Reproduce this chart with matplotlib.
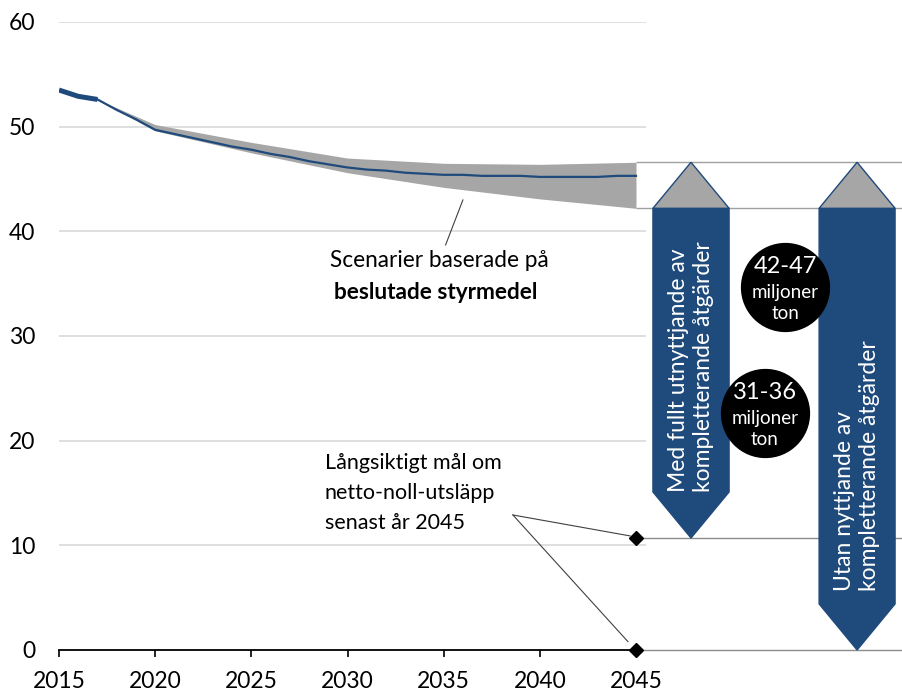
import matplotlib
matplotlib.use("Agg")
import matplotlib.pyplot as plt
from matplotlib.patches import Polygon

plt.rcParams['font.family'] = ['Lato', 'DejaVu Sans']

# historic + projected emissions (miljoner ton)
years = list(range(2015, 2046))
emissions = [53.5, 52.9, 52.6, 51.6, 50.7, 49.7, 49.3, 48.9, 48.5, 48.1,
             47.8, 47.4, 47.1, 46.7, 46.4, 46.1, 45.9, 45.8, 45.6, 45.5,
             45.4, 45.4, 45.3, 45.3, 45.3, 45.2, 45.2, 45.2, 45.2, 45.3, 45.3]
hist_end = 2017

# scenario band
band_years = [2017, 2020, 2025, 2030, 2035, 2040, 2045]
band_upper = [52.6, 50.2, 48.5, 47.0, 46.5, 46.4, 46.6]
band_lower = [52.6, 49.6, 47.5, 45.6, 44.2, 43.1, 42.2]

target_year = 2045
target_levels = [10.7, 0]

x_ticks = [2015, 2020, 2025, 2030, 2035, 2040, 2045]
y_ticks = [0, 10, 20, 30, 40, 50, 60]

blue = '#1f4a7c'
grey = '#a6a6a6'

fig = plt.figure(figsize=(9.02, 6.91), dpi=100)
ax = fig.add_axes([59/902, 41/691, 843/902, 628/691])
ax.set_xlim(2015, 2058.83)
ax.set_ylim(0, 60)
for s in ax.spines.values():
    s.set_visible(False)

# grid
ax.hlines(y_ticks[1:], 2015, 2045.5, color='#d9d9d9', lw=1.2, zorder=0)
ax.plot([2015, 2045.3], [0, 0], color='black', lw=1.3, clip_on=False, zorder=3)

ax.set_xticks(x_ticks)
ax.set_xticklabels([str(x) for x in x_ticks], fontsize=16.5)
ax.set_yticks(y_ticks)
ax.set_yticklabels([str(y) for y in y_ticks], fontsize=16.5)
ax.tick_params(axis='x', length=5, width=1.2, direction='out', pad=10)
ax.tick_params(axis='y', length=0, pad=17)

# band and line
ax.fill_between(band_years, band_lower, band_upper, color=grey, lw=0, zorder=2)
n = years.index(hist_end) + 1
ax.plot(years[:n], emissions[:n], color=blue, lw=3.6, solid_capstyle='butt', zorder=3)
ax.plot(years[n-1:], emissions[n-1:], color=blue, lw=1.6, zorder=3)

x_right = 2058.83
up, lo = band_upper[-1], band_lower[-1]
ax.hlines([up, lo], band_years[-1], x_right, color='#a0a0a0', lw=1.0, zorder=1)
for t in target_levels:
    ax.plot([target_year, x_right], [t, t], color='#8c8c8c', lw=1.0, clip_on=False, zorder=1)
ax.plot([target_year] * len(target_levels), target_levels, 'D', color='black',
        ms=7, clip_on=False, zorder=5)

# arrows
head = up - lo
def arrow(x0, x1, tip, label, text_y):
    xc = (x0 + x1) / 2
    ax.add_patch(Polygon([(x0, lo), (x0, tip + head), (xc, tip), (x1, tip + head), (x1, lo)],
                         closed=True, fc=blue, ec=blue, lw=1, zorder=4, clip_on=False))
    ax.add_patch(Polygon([(x0, lo), (xc, up), (x1, lo)], closed=True, fc=grey,
                         ec=blue, lw=1, zorder=4))
    ax.text(xc, text_y, label, rotation=90, ha='center', va='bottom',
            multialignment='left', color='white', fontsize=16.5, linespacing=1.2, zorder=6)

arrow(2045.88, 2049.84, target_levels[0], 'Med fullt utnyttjande av\nkompletterande åtgärder', 15.1)
arrow(2054.52, 2058.47, target_levels[1], 'Utan nyttjande av\nkompletterande åtgärder', 5.6)

# circles
circles = [(2052.77, 34.67, f"{lo:.0f}-{up:.0f}"), (2051.71, 22.64, "31-36")]
for cx, cy, txt in circles:
    ax.scatter([cx], [cy], s=4000, color='black', zorder=6)
    ax.text(cx, cy + 2.0, txt, ha='center', va='center', color='white', fontsize=17, zorder=7)
    ax.text(cx, cy - 0.5, 'miljoner', ha='center', va='center', color='white', fontsize=13.5, zorder=7)
    ax.text(cx, cy - 2.5, 'ton', ha='center', va='center', color='white', fontsize=13.5, zorder=7)

# annotations
ax.plot([2036.0, 2035.1], [43.0, 38.7], color='#404040', lw=0.8, zorder=3)
ax.text(2034.76, 37.25, 'Scenarier baserade på', ha='center', va='center', fontsize=16.3)
ax.text(2034.6, 34.2, 'beslutade styrmedel', ha='center', va='center', fontsize=16.3,
        fontweight='bold')

ax.text(2028.83, 15.0, 'Långsiktigt mål om\nnetto-noll-utsläpp\nsenast år 2045',
        ha='left', va='center', fontsize=15.5, linespacing=1.62)
ax.plot([2038.6, 2044.69], [12.9, 10.9], color='#404040', lw=0.8, zorder=3)
ax.plot([2038.6, 2044.58], [12.9, 0.8], color='#404040', lw=0.8, zorder=3)

fig.savefig('out.png', dpi=100)
